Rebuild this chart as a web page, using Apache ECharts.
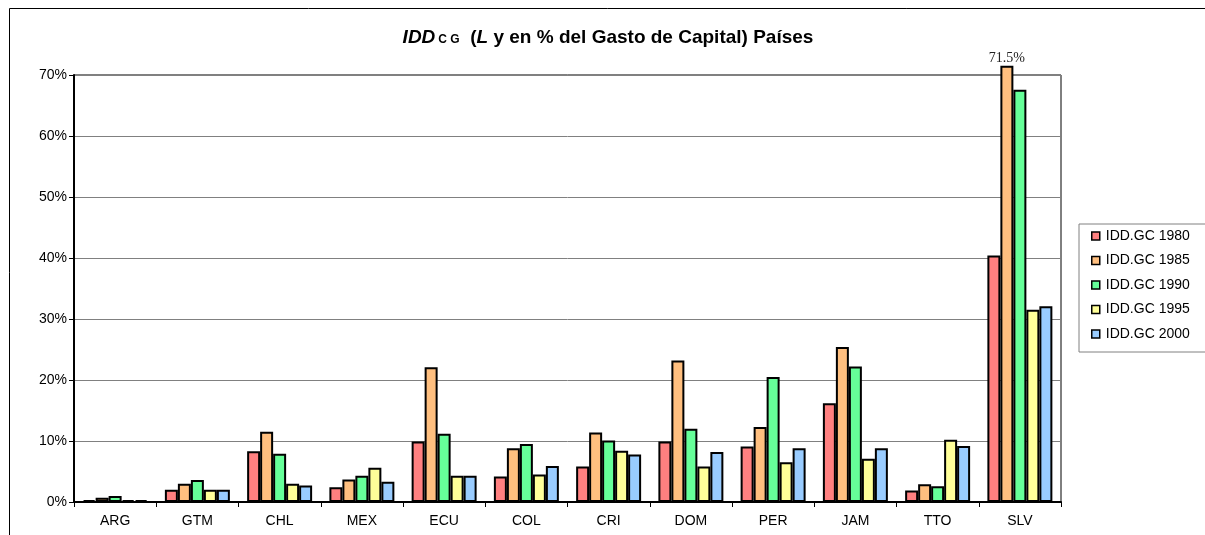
<!DOCTYPE html>
<html>
<head>
<meta charset="utf-8">
<script src="https://cdn.jsdelivr.net/npm/echarts@6/dist/echarts.min.js"></script>
<style>
  html, body { margin: 0; padding: 0; background: #fff; }
  #chart { width: 1205px; height: 535px; }
</style>
</head>
<body>
<div id="chart"></div>
<script>
// Countries on the category axis
var categories = ['ARG', 'GTM', 'CHL', 'MEX', 'ECU', 'COL', 'CRI', 'DOM', 'PER', 'JAM', 'TTO', 'SLV'];

// IDD as % of capital expenditure, by year
var idd1980 = [0.3, 2.0, 8.3, 2.4, 9.9, 4.2, 5.8, 9.9, 9.1, 16.2, 1.9, 40.4];
var idd1985 = [0.7, 3.0, 11.5, 3.7, 22.1, 8.8, 11.4, 23.2, 12.3, 25.4, 2.9, 71.5];
var idd1990 = [1.0, 3.6, 7.9, 4.3, 11.2, 9.5, 10.1, 12.0, 20.5, 22.2, 2.6, 67.6];
var idd1995 = [0.3, 2.0, 3.0, 5.6, 4.3, 4.5, 8.4, 5.8, 6.5, 7.1, 10.2, 31.5];
var idd2000 = [0.3, 2.0, 2.7, 3.3, 4.3, 5.9, 7.8, 8.2, 8.8, 8.8, 9.2, 32.1];

var seriesNames = ['IDD.GC 1980', 'IDD.GC 1985', 'IDD.GC 1990', 'IDD.GC 1995', 'IDD.GC 2000'];
var seriesData = [idd1980, idd1985, idd1990, idd1995, idd2000];
var seriesColors = ['#FF8080', '#FFBF7F', '#66FF99', '#FFFF99', '#99CCFF'];

// Y axis ticks
var yMin = 0, yMax = 70, yStep = 10;

// The one bar that runs past the axis top gets its value written above it
var labelledSeries = 1, labelledIndex = 11;

var font = '"Liberation Sans", Arial, sans-serif';

var series = seriesNames.map(function (name, s) {
  return {
    name: name,
    type: 'bar',
    clip: false,
    barGap: '0%',
    barCategoryGap: '21%',
    itemStyle: { color: seriesColors[s], borderColor: '#000', borderWidth: 2 },
    emphasis: { disabled: true },
    data: seriesData[s].map(function (v, i) {
      if (s === labelledSeries && i === labelledIndex) {
        return {
          value: v,
          label: {
            show: true, position: 'top', distance: 1,
            formatter: v.toFixed(1) + '%',
            fontFamily: '"Liberation Serif", "Times New Roman", serif',
            fontSize: 14, color: '#222'
          }
        };
      }
      return v;
    })
  };
});

var chart = echarts.init(document.getElementById('chart'), null, { renderer: 'canvas' });
chart.setOption({
  animation: false,
  backgroundColor: '#fff',
  title: {
    left: 603, top: 23, textAlign: 'center',
    text: '{bi|IDD}{sub|C G}{b|  (}{bi|L}{b| y en % del Gasto de Capital) Países}',
    textStyle: {
      rich: {
        bi: { fontFamily: font, fontWeight: 'bold', fontStyle: 'italic', fontSize: 19, color: '#000' },
        b: { fontFamily: font, fontWeight: 'bold', fontSize: 19, color: '#000' },
        sub: { fontFamily: font, fontWeight: 'bold', fontSize: 12, color: '#000', padding: [5, 0, 0, 3] }
      }
    }
  },
  graphic: [{
    type: 'rect', silent: true,
    shape: { x: 9.5, y: 8.5, width: 1300, height: 600 },
    style: { fill: 'none', stroke: '#000', lineWidth: 1 }
  }],
  legend: {
    orient: 'vertical', left: 1079, top: 224,
    padding: [4, 30, 10, 12],
    itemWidth: 8, itemHeight: 8, itemGap: 8.5,
    icon: 'rect',
    borderColor: '#808080', borderWidth: 1,
    backgroundColor: '#fff',
    itemStyle: { borderColor: '#000', borderWidth: 1.5 },
    textStyle: { fontFamily: font, fontSize: 14, color: '#000', lineHeight: 16, padding: [0, 0, 0, 1] },
    data: seriesNames
  },
  grid: {
    left: 74, right: 144, top: 75, bottom: 33,
    show: true, borderColor: '#000', borderWidth: 1, backgroundColor: 'transparent'
  },
  xAxis: {
    type: 'category', data: categories,
    axisLine: { lineStyle: { color: '#000', width: 2 } },
    axisTick: { show: true, length: 5, alignWithLabel: false, lineStyle: { color: '#000', width: 1 } },
    axisLabel: { fontFamily: font, fontSize: 14, color: '#000', margin: 12 },
    splitLine: { show: false }
  },
  yAxis: {
    type: 'value', min: yMin, max: yMax, interval: yStep,
    axisLine: { show: true, lineStyle: { color: '#000', width: 2 } },
    axisTick: { show: true, length: 5, lineStyle: { color: '#000', width: 1 } },
    axisLabel: { fontFamily: font, fontSize: 14, color: '#000', margin: 7, formatter: '{value}%' },
    splitLine: { show: true, lineStyle: { color: '#808080', width: 1 } }
  },
  series: series
});
</script>
</body>
</html>
